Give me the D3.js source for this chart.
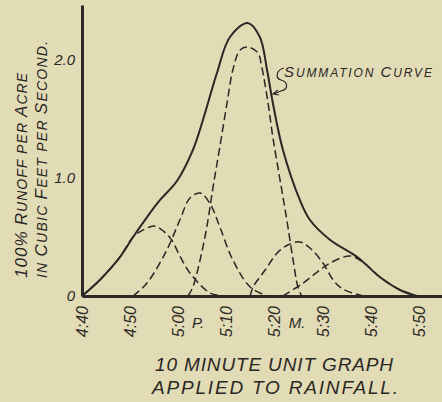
<!DOCTYPE html>
<html>
<head>
<meta charset="utf-8">
<script src="https://cdn.jsdelivr.net/npm/d3@7"></script>
<style>
  body { margin: 0; background: #e1dbb6; }
  svg { display: block; }
  text { font-family: "Liberation Sans", "DejaVu Sans", sans-serif; font-style: italic; fill: #2b2724; }
</style>
</head>
<body>
<div id="vis"></div>
<script>
// minutes after 4:40 P.M. and runoff (cfs per acre)
var tickMinutes = [0, 10, 20, 30, 40, 50, 60, 70];
var tickLabels = ["4:40", "4:50", "5:00", "5:10", "5:20", "5:30", "5:40", "5:50"];
var yTicks = [0, 1, 2];
var yTickLabels = ["0", "1.0", "2.0"];

// summation curve
var sumT = [0, 3.7, 7.9, 10.6, 13.5, 16.2, 19.7, 23.0, 25.1, 28.0, 30.7, 34.4, 36.9, 38.4, 39.6, 41.7, 45.2, 47.3, 51.5, 57.1, 61.8, 66.0, 69.5];
var sumV = [0, 0.136, 0.331, 0.5, 0.669, 0.814, 0.975, 1.237, 1.492, 1.89, 2.195, 2.314, 2.195, 1.915, 1.636, 1.237, 0.814, 0.644, 0.475, 0.331, 0.161, 0.051, 0];

// the five 10 minute unit graphs
var unit1T = [0, 3.7, 7.9, 10.6, 13.1, 15.1, 18.3, 20.3, 22.4, 26.6, 29.7];
var unit1V = [0, 0.136, 0.331, 0.5, 0.568, 0.593, 0.492, 0.339, 0.195, 0.025, 0];
var unit2T = [10.6, 13.5, 17.6, 20.3, 22.4, 24.5, 26.6, 28.6, 31.3, 34.9, 38.4];
var unit2V = [0, 0.11, 0.39, 0.644, 0.831, 0.873, 0.78, 0.585, 0.305, 0.076, 0];
var unit3T = [22.0, 23.0, 24.5, 25.9, 27.2, 28.6, 30.1, 31.3, 32.8, 34.4, 36.5, 37.3, 38.6, 39.6, 41.1, 42.5, 43.8, 44.8, 45.6];
var unit3V = [0, 0.076, 0.305, 0.585, 0.924, 1.263, 1.636, 1.915, 2.085, 2.11, 2.059, 1.941, 1.636, 1.347, 0.983, 0.644, 0.305, 0.076, 0];
var unit4T = [34.9, 35.5, 38.0, 40.5, 42.7, 45.2, 47.3, 50.0, 52.1, 54.1, 58.3];
var unit4V = [0, 0.076, 0.22, 0.364, 0.432, 0.458, 0.407, 0.28, 0.136, 0.059, 0];
var unit5T = [41.7, 45.9, 48.8, 51.5, 55.6, 58.3, 61.8, 66.0, 69.5];
var unit5V = [0, 0.11, 0.203, 0.28, 0.339, 0.288, 0.161, 0.051, 0];

var width = 442, height = 402;
var ink = "#2b2724";

var svg = d3.select("#vis").append("svg")
  .attr("width", width)
  .attr("height", height);

var x = d3.scaleLinear().domain([0, 74.7]).range([82, 442]);
var y = d3.scaleLinear().domain([0, 2.466]).range([296, 5]);

function pts(ts, vs) {
  return ts.map(function(t, i) { return [t, vs[i]]; });
}

var line = d3.line()
  .x(function(d) { return x(d[0]); })
  .y(function(d) { return y(d[1]); })
  .curve(d3.curveCatmullRom.alpha(0.5));

// stretch a text out to the width it has in the drawing
function fit(t, target) {
  var n = t.text().length;
  var len = t.node().getComputedTextLength();
  t.attr("letter-spacing", ((target - len) / (n - 1)).toFixed(2));
  return t;
}

// hand lettered small caps: capitals and digits big, the rest small
function smallCaps(t, str, big, small) {
  var runs = [];
  str.split("").forEach(function(c) {
    var isBig = /[A-Z0-9%]/.test(c);
    if (runs.length && runs[runs.length - 1].big === isBig) runs[runs.length - 1].s += c;
    else runs.push({ big: isBig, s: c });
  });
  runs.forEach(function(r) {
    t.append("tspan").attr("font-size", r.big ? big : small).text(r.s.toUpperCase());
  });
  return t;
}

// dashed unit graphs
var units = [pts(unit1T, unit1V), pts(unit2T, unit2V), pts(unit3T, unit3V), pts(unit4T, unit4V), pts(unit5T, unit5V)];
svg.selectAll(".unit").data(units)
  .enter().append("path")
  .attr("class", "unit")
  .attr("d", line)
  .attr("fill", "none")
  .attr("stroke", ink)
  .attr("stroke-width", 1.5)
  .attr("stroke-dasharray", "8,4");

// summation curve
svg.append("path")
  .attr("d", line(pts(sumT, sumV)))
  .attr("fill", "none")
  .attr("stroke", ink)
  .attr("stroke-width", 2);

// axes
var xAxis = svg.append("g")
  .attr("transform", "translate(0,296)")
  .call(d3.axisBottom(x).tickValues(tickMinutes).tickSize(0).tickFormat(""));
xAxis.select(".domain").attr("stroke", ink).attr("stroke-width", 3);

svg.selectAll(".xlab").data(tickMinutes)
  .enter().append("text")
  .attr("class", "xlab")
  .attr("transform", function(d) { return "translate(" + x(d) + ",306) rotate(-90)"; })
  .attr("dy", "0.35em")
  .attr("text-anchor", "end")
  .attr("font-size", 16)
  .text(function(d, i) { return tickLabels[i]; });

var yAxis = svg.append("g")
  .attr("transform", "translate(82,0)")
  .call(d3.axisLeft(y).tickValues(yTicks).tickSize(0).tickPadding(7)
    .tickFormat(function(d, i) { return yTickLabels[i]; }));
yAxis.select(".domain").attr("stroke", ink).attr("stroke-width", 3);
yAxis.selectAll("text")
  .attr("font-size", 15)
  .attr("font-family", "Liberation Sans, sans-serif")
  .attr("font-style", "italic")
  .attr("fill", ink);

// P.M. marks between ticks
svg.append("text").attr("x", 198).attr("y", 328).attr("text-anchor", "middle")
  .attr("font-size", 15).text("P.");
svg.append("text").attr("x", 297).attr("y", 328).attr("text-anchor", "middle")
  .attr("font-size", 15).text("M.");

// y axis title, two lines
fit(smallCaps(svg.append("text").attr("transform", "translate(27,278) rotate(-90)"),
  "100% Runoff per Acre", 17, 14), 205);
fit(smallCaps(svg.append("text").attr("transform", "translate(47,278) rotate(-90)"),
  "in Cubic Feet per Second.", 17, 14), 237);

// chart caption
fit(svg.append("text").attr("x", 155).attr("y", 371)
  .attr("font-size", 19).text("10 MINUTE UNIT GRAPH"), 238);
fit(svg.append("text").attr("x", 152).attr("y", 394)
  .attr("font-size", 19).text("APPLIED TO RAINFALL."), 246);

// summation curve label with squiggle pointer
fit(smallCaps(svg.append("text").attr("x", 284).attr("y", 77),
  "Summation Curve", 15, 12), 148);
svg.append("path")
  .attr("d", "M284,68 C276,70 275,78 281,80 C288,82 289,89 281,91 L274,94")
  .attr("fill", "none").attr("stroke", ink).attr("stroke-width", 1.2);
svg.append("path")
  .attr("d", "M278,90 L273,94 L279,95")
  .attr("fill", "none").attr("stroke", ink).attr("stroke-width", 1.2);
</script>
</body>
</html>
